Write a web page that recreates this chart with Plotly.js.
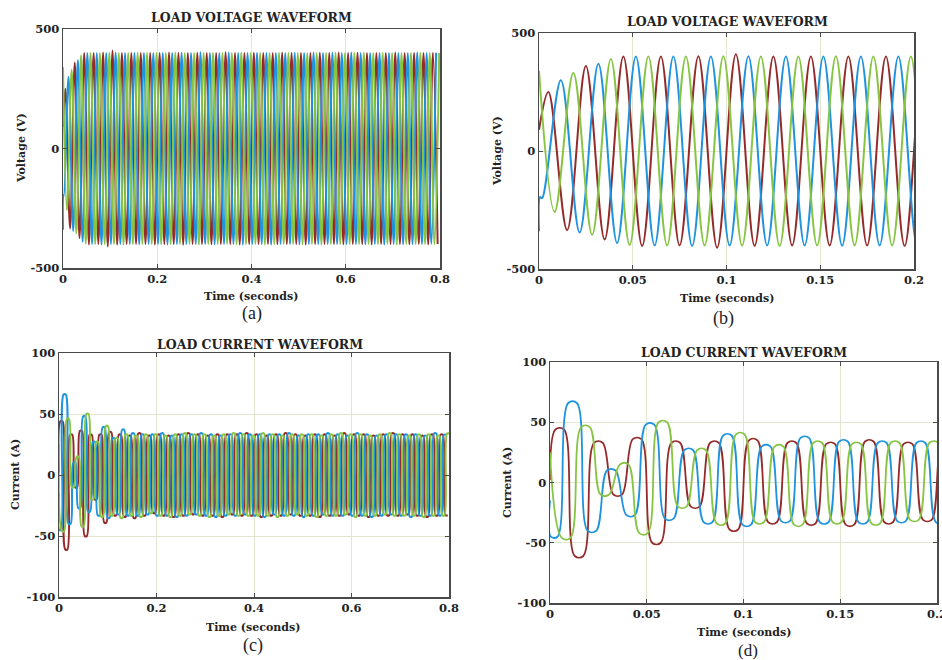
<!DOCTYPE html>
<html>
<head>
<meta charset="utf-8">
<script src="https://cdn.plot.ly/plotly-3.0.1.min.js"></script>
<style>
  html, body { margin: 0; padding: 0; background: #ffffff; }
  #chart { width: 942px; height: 660px; }
</style>
</head>
<body>
<div id="chart"></div>
<script>
// Three-phase load voltage and current of the inverter-fed load (50 Hz).
const period = 0.02;              // s
const halfPeriod = period / 2;

// Time of the first half-cycle extremum of each phase (s)
const firstExtremumA = 0.005;
const firstExtremumB = 0.001667;
const firstExtremumC = 0.008333;

// ---- Load voltage (V) ----
// samples before the first extremum
const voltLeadTimeA = [0];          const voltLeadA = [90];
const voltLeadTimeB = [0, 0.0006];  const voltLeadB = [-340, -195];
const voltLeadTimeC = [0];          const voltLeadC = [340];

// successive half-cycle extrema, one every 10 ms
const voltExtremaA = [
  250, -335, 360, -375, 400, -402, 400, -400, 402, -410,
  410, -402, 400, -400, 400, -400, 400, -400, 400, -402,
  400, -400, 402, -400, 400, -403, 400, -400, 401, -400,
  400, -401, 400, -400, 403, -400, 400, -402, 400, -400,
  401, -400, 400, -400, 400, -401, 402, -400, 400, -400,
  400, -402, 400, -400, 401, -400, 400, -400, 402, -401,
  400, -400, 401, -400, 400, -402, 400, -400, 400, -400,
  402, -400, 400, -401, 400, -400, 400, -402, 401, -400
];
const voltExtremaB = [
  -200, 300, -345, 370, -390, 400, -400, 400, -402, 400,
  -400, 402, -400, 400, -400, 400, -401, 400, -400, 400,
  -400, 400, -402, 400, -400, 401, -400, 400, -400, 403,
  -400, 400, -401, 400, -400, 402, -400, 400, -403, 400,
  -400, 401, -400, 400, -402, 400, -400, 400, -400, 401,
  -401, 400, -400, 402, -400, 400, -400, 401, -400, 400,
  -400, 402, -400, 400, -401, 400, -400, 400, -402, 400,
  -400, 400, -401, 400, -400, 402, -400, 400, -400, 401
];
const voltExtremaC = [
  -258, 330, -355, 390, -398, 400, -400, 400, -400, 402,
  -400, 400, -402, 400, -400, 401, -400, 400, -400, 400,
  -401, 400, -400, 402, -400, 400, -400, 400, -402, 400,
  -400, 401, -400, 400, -400, 400, -401, 402, -400, 400,
  -400, 400, -402, 400, -400, 401, -400, 400, -400, 400,
  -401, 400, -400, 400, -402, 400, -400, 401, -400, 400,
  -400, 400, -400, 402, -400, 400, -401, 400, -400, 400,
  -402, 400, -400, 400, -400, 401, -400, 400, -401, 400
];

// ---- Load current (A) ----
const currLeadTimeA = [0]; const currLeadA = [2];
const currLeadTimeB = [0]; const currLeadB = [-15];
const currLeadTimeC = [0]; const currLeadC = [25];

const currExtremaA = [
  44, -61, 33, -10, 36, -50, 33, -20, 33, -39,
  35, -33, 33, -34, 32, -35, 34, -33, 32, -31,
  33, -33, 32, -34, 33, -33, 34, -32, 33, -33,
  32, -33, 33, -34, 33, -32, 33, -33, 34, -33,
  33, -34, 32, -33, 33, -33, 34, -32, 33, -33,
  32, -33, 33, -34, 33, -33, 32, -33, 34, -32,
  33, -33, 33, -34, 32, -33, 33, -33, 34, -33,
  33, -32, 33, -33, 32, -34, 33, -33, 33, -33
];
const currExtremaB = [
  -45, 66, -40, 10, -27, 48, -30, 27, -33, 39,
  -35, 30, -32, 37, -33, 34, -33, 33, -32, 33,
  -33, 34, -33, 32, -34, 33, -33, 33, -32, 34,
  -33, 33, -34, 32, -33, 33, -33, 34, -32, 33,
  -33, 33, -34, 33, -32, 33, -33, 34, -33, 32,
  -34, 33, -33, 33, -32, 34, -33, 33, -33, 32,
  -33, 34, -33, 33, -34, 32, -33, 33, -32, 33,
  -33, 33, -34, 33, -33, 32, -33, 34, -33, 33
];
const currExtremaC = [
  -46, 46, -10, 15, -42, 50, -20, 27, -34, 40,
  -33, 30, -35, 33, -33, 32, -34, 33, -31, 33,
  -33, 32, -34, 33, -33, 34, -32, 33, -33, 33,
  -34, 32, -33, 33, -32, 34, -33, 33, -33, 32,
  -33, 34, -33, 33, -34, 32, -33, 33, -32, 33,
  -33, 33, -34, 32, -33, 33, -33, 34, -32, 33,
  -34, 33, -33, 32, -33, 33, -32, 34, -33, 33,
  -33, 32, -33, 33, -34, 33, -33, 32, -33, 34
];

// Tick labels
const timeTicksLong = [0, 0.2, 0.4, 0.6, 0.8];
const timeLabelsLong = ['0', '0.2', '0.4', '0.6', '0.8'];
const timeTicksShort = [0, 0.05, 0.1, 0.15, 0.2];
const timeLabelsShort = ['0', '0.05', '0.1', '0.15', '0.2'];
const voltTicks = [-500, 0, 500];
const voltLabels = ['-500', '0', '500'];
const currTicks = [-100, -50, 0, 50, 100];
const currLabels = ['-100', '-50', '0', '50', '100'];

const phaseColors = ['#952a2a', '#1f93dd', '#87c443'];

// Voltage: smooth curve through the half-cycle extrema
function voltagePath(leadT, leadV, t0, extrema) {
  const x = leadT.slice(), y = leadV.slice();
  extrema.forEach((v, k) => { x.push(t0 + k * halfPeriod); y.push(v); });
  return { x, y };
}
// Current: flat-topped half cycles around each extremum
const plateauHalfWidth = period / 9;
function currentPath(leadT, leadV, t0, extrema) {
  const x = leadT.slice(), y = leadV.slice();
  extrema.forEach((v, k) => {
    const tc = t0 + k * halfPeriod;
    const left = Math.max(tc - plateauHalfWidth, x[x.length - 1] + 0.0004);
    x.push(left, tc + plateauHalfWidth);
    y.push(v, v);
  });
  return { x, y };
}

const voltPaths = [
  voltagePath(voltLeadTimeA, voltLeadA, firstExtremumA, voltExtremaA),
  voltagePath(voltLeadTimeB, voltLeadB, firstExtremumB, voltExtremaB),
  voltagePath(voltLeadTimeC, voltLeadC, firstExtremumC, voltExtremaC)
];
const currPaths = [
  currentPath(currLeadTimeA, currLeadA, firstExtremumA, currExtremaA),
  currentPath(currLeadTimeB, currLeadB, firstExtremumB, currExtremaB),
  currentPath(currLeadTimeC, currLeadC, firstExtremumC, currExtremaC)
];

const traces = [];
function addPhases(paths, xa, ya, width) {
  paths.forEach((p, i) => {
    traces.push({
      type: 'scatter', mode: 'lines', x: p.x, y: p.y,
      xaxis: xa, yaxis: ya,
      line: { color: phaseColors[i], width, shape: 'spline', smoothing: 1 },
      hoverinfo: 'skip', showlegend: false
    });
  });
}
addPhases(voltPaths, 'x', 'y', 2);
addPhases(voltPaths, 'x2', 'y2', 2);
addPhases(currPaths, 'x3', 'y3', 2);
addPhases(currPaths, 'x4', 'y4', 1.8);

const W = 942, H = 660;
const px = v => v / W;
const py = v => 1 - v / H;

const tickFont = { family: 'DejaVu Serif', size: 11.5, color: '#222222', weight: 'bold' };
function axis(domain, range, tickvals, ticktext) {
  return {
    domain, range, tickvals, ticktext,
    showline: true, linecolor: '#4a4a4a', linewidth: 1.5, mirror: 'ticks',
    ticks: 'inside', ticklen: 4, tickcolor: '#4a4a4a', tickwidth: 1,
    showgrid: true, gridcolor: '#e1e7cf', gridwidth: 1,
    zeroline: false, tickfont: tickFont, fixedrange: true,
    ticklabeloverflow: 'allow'
  };
}

const titleFont = { family: 'DejaVu Serif', size: 12.5, color: '#222222', weight: 'bold' };
const axisTitleFont = { family: 'DejaVu Serif', size: 11, color: '#222222', weight: 'bold' };
const panelFont = { family: 'Liberation Serif', size: 18, color: '#222222' };
const panelFontSmall = { family: 'Liberation Serif', size: 17, color: '#222222' };

function note(text, x, y, font, angle) {
  return {
    text, xref: 'paper', yref: 'paper', x: px(x), y: py(y),
    xanchor: 'center', yanchor: 'middle', showarrow: false,
    font, textangle: angle || 0
  };
}

const layout = {
  width: W, height: H,
  margin: { l: 0, r: 0, t: 0, b: 0 },
  paper_bgcolor: '#ffffff', plot_bgcolor: '#ffffff',
  showlegend: false,
  xaxis:  Object.assign(axis([px(63), px(440)], [0, 0.8], timeTicksLong, timeLabelsLong), { anchor: 'y' }),
  yaxis:  Object.assign(axis([py(268), py(29)], [-500, 500], voltTicks, voltLabels), { anchor: 'x' }),
  xaxis2: Object.assign(axis([px(539), px(914)], [0, 0.2], timeTicksShort, timeLabelsShort), { anchor: 'y2' }),
  yaxis2: Object.assign(axis([py(269), py(33)], [-500, 500], voltTicks, voltLabels), { anchor: 'x2' }),
  xaxis3: Object.assign(axis([px(59), px(449)], [0, 0.8], timeTicksLong, timeLabelsLong), { anchor: 'y3' }),
  yaxis3: Object.assign(axis([py(597), py(353)], [-100, 100], currTicks, currLabels), { anchor: 'x3' }),
  xaxis4: Object.assign(axis([px(550), px(937)], [0, 0.2], timeTicksShort, timeLabelsShort), { anchor: 'y4' }),
  yaxis4: Object.assign(axis([py(603), py(362)], [-100, 100], currTicks, currLabels), { anchor: 'x4' }),
  annotations: [
    note('LOAD VOLTAGE WAVEFORM', 251, 17, titleFont),
    note('LOAD VOLTAGE WAVEFORM', 727, 21, titleFont),
    note('LOAD CURRENT WAVEFORM', 260, 344, titleFont),
    note('LOAD CURRENT WAVEFORM', 744, 353, titleFont),
    note('Time (seconds)', 251, 297, axisTitleFont),
    note('Time (seconds)', 727, 298, axisTitleFont),
    note('Time (seconds)', 253, 627, axisTitleFont),
    note('Time (seconds)', 744, 632, axisTitleFont),
    note('Voltage (V)', 21, 148, axisTitleFont, -90),
    note('Voltage (V)', 498, 151, axisTitleFont, -90),
    note('Current (A)', 15, 475, axisTitleFont, -90),
    note('Current (A)', 507, 483, axisTitleFont, -90),
    note('(a)', 252, 313, panelFont),
    note('(b)', 723, 318, panelFont),
    note('(c)', 253, 645, panelFont),
    note('(d)', 748, 650, panelFontSmall)
  ]
};

Plotly.newPlot('chart', traces, layout, { displayModeBar: false, staticPlot: true });
</script>
</body>
</html>
